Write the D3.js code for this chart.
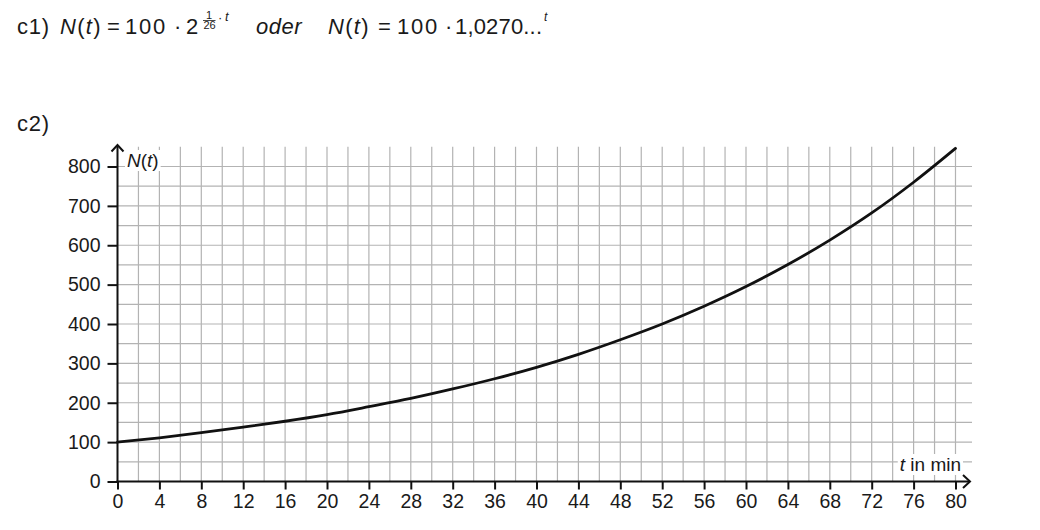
<!DOCTYPE html>
<html><head><meta charset="utf-8">
<script src="https://cdn.jsdelivr.net/npm/d3@7"></script>
<style>
body{margin:0;background:#fff}
svg{display:block}
text{font-family:"Liberation Sans",Arial,Helvetica,sans-serif;fill:#1a1a1a}
</style>
</head><body>
<svg id="c" width="1040" height="530"></svg>
<script>
// ---- data ----
const tValues = [0,4,8,12,16,20,24,28,32,36,40,44,48,52,56,60,64,68,72,76,80];
const nValues = [100,111,124,138,153,170,190,211,235,261,290,323,360,400,445,495,551,613,682,760,846];
const xTickValues = [0,4,8,12,16,20,24,28,32,36,40,44,48,52,56,60,64,68,72,76,80];
const xTickLabels = ["0","4","8","12","16","20","24","28","32","36","40","44","48","52","56","60","64","68","72","76","80"];
const yTickValues = [0,100,200,300,400,500,600,700,800];
const yTickLabels = ["0","100","200","300","400","500","600","700","800"];
const xGridValues = d3.range(2, 81, 2);
const yGridValues = d3.range(50, 801, 50);
const xAxisLabel = "in min";

const svg = d3.select("#c");
const x = d3.scaleLinear().domain([0, 80]).range([117.5, 955.5]);
const y = d3.scaleLinear().domain([0, 800]).range([481.5, 166.5]);
const gridRight = 972, gridTopVal = 850;

// ---- header formulas ----
const fs = 22, base = 34;
const h = svg.append("g");
function nt(sel, xp) {
  const t = sel.append("text").attr("x", xp).attr("y", base).attr("font-size", fs).attr("letter-spacing", 1.3);
  t.append("tspan").attr("font-style","italic").text("N");
  t.append("tspan").text("(");
  t.append("tspan").attr("font-style","italic").text("t");
  t.append("tspan").text(")");
}
function txt(xp, s, opts = {}) {
  const t = h.append("text").attr("x", xp).attr("y", opts.y || base).attr("font-size", opts.fs || fs).text(s);
  if (opts.ls) t.attr("letter-spacing", opts.ls);
  if (opts.it) t.attr("font-style", "italic");
  if (opts.anchor) t.attr("text-anchor", opts.anchor);
  if (opts.len) t.attr("textLength", opts.len).attr("lengthAdjust", "spacing");
  return t;
}
txt(17, "c1)", {ls: 0.8});
nt(h, 60);
txt(107, "=");
txt(125, "100", {ls: 1.8});
txt(174, "·");
txt(186, "2");
txt(209, "1", {y: 18.5, fs: 11, anchor: "middle"});
h.append("line").attr("x1", 203).attr("x2", 215.5).attr("y1", 20.5).attr("y2", 20.5).attr("stroke", "#1a1a1a").attr("stroke-width", 0.8);
txt(209.5, "26", {y: 28.5, fs: 11, anchor: "middle"});
txt(218, "·", {y: 22, fs: 13});
txt(225, "t", {y: 21, fs: 13, it: true});
txt(256, "oder", {it: true, ls: 0.5});
nt(h, 328);
txt(378, "=");
txt(397, "100", {ls: 1.8});
txt(445, "·");
txt(455, "1,0270...", {len: 87});
txt(544, "t", {y: 21, fs: 12, it: true});
txt(17, "c2)", {y: 131, ls: 0.8});

// ---- grid ----
const grid = svg.append("g").attr("stroke", "#b3b3b3").attr("stroke-width", 1.2);
grid.selectAll("line.v").data(xGridValues).join("line")
  .attr("x1", d => x(d)).attr("x2", d => x(d))
  .attr("y1", y(0)).attr("y2", y(gridTopVal));
grid.selectAll("line.h").data(yGridValues).join("line")
  .attr("x1", x(0)).attr("x2", gridRight)
  .attr("y1", d => y(d)).attr("y2", d => y(d));

// ---- axis labels with white backgrounds ----
function bgLabel(xp, yp, anchor, build) {
  const g = svg.append("g");
  const rect = g.append("rect").attr("fill", "#fff");
  const t = g.append("text").attr("x", xp).attr("y", yp).attr("font-size", 19).attr("text-anchor", anchor);
  build(t);
  const b = t.node().getBBox();
  rect.attr("x", b.x - 2).attr("y", b.y).attr("width", b.width + 4).attr("height", b.height);
}
bgLabel(127, 167, "start", t => {
  t.append("tspan").attr("font-style","italic").text("N");
  t.append("tspan").text("(");
  t.append("tspan").attr("font-style","italic").text("t");
  t.append("tspan").text(")");
});
bgLabel(961, 471, "end", t => {
  t.append("tspan").attr("font-style","italic").text("t");
  t.append("tspan").text(" " + xAxisLabel);
});

// ---- curve ----
const pts = tValues.map((t, i) => [t, nValues[i]]);
svg.append("path").datum(pts)
  .attr("fill", "none").attr("stroke", "#111").attr("stroke-width", 2.8)
  .attr("stroke-linejoin", "round").attr("stroke-linecap", "round")
  .attr("d", d3.line().x(d => x(d[0])).y(d => y(d[1])).curve(d3.curveMonotoneX));

// ---- axes ----
const xAxis = d3.axisBottom(x).tickValues(xTickValues)
  .tickFormat((d, i) => xTickLabels[i]).tickSize(8).tickPadding(5);
const gx = svg.append("g").attr("transform", `translate(0,${y(0)})`).call(xAxis);
const yAxis = d3.axisLeft(y).tickValues(yTickValues)
  .tickFormat((d, i) => yTickLabels[i]).tickSize(10).tickPadding(7);
const gy = svg.append("g").attr("transform", `translate(${x(0)},0)`).call(yAxis);
[gx, gy].forEach(g => {
  g.select(".domain").remove();
  g.selectAll(".tick line").attr("stroke", "#111").attr("stroke-width", 2);
  g.selectAll(".tick text").attr("font-size", 19.5).attr("fill", "#1a1a1a")
    .attr("font-family", '"Liberation Sans",Arial,sans-serif');
});
const ax = svg.append("g").attr("stroke", "#111").attr("stroke-width", 2).attr("fill", "none");
ax.append("line").attr("x1", x(0) - 1).attr("x2", 970).attr("y1", y(0)).attr("y2", y(0));
ax.append("polyline").attr("points", `963,475 970,${y(0)} 963,488`);
ax.append("line").attr("x1", x(0)).attr("x2", x(0)).attr("y1", y(0) + 1).attr("y2", 145);
ax.append("polyline").attr("points", `${x(0)-6},151.5 ${x(0)},145 ${x(0)+6},151.5`);
</script>
</body></html>
